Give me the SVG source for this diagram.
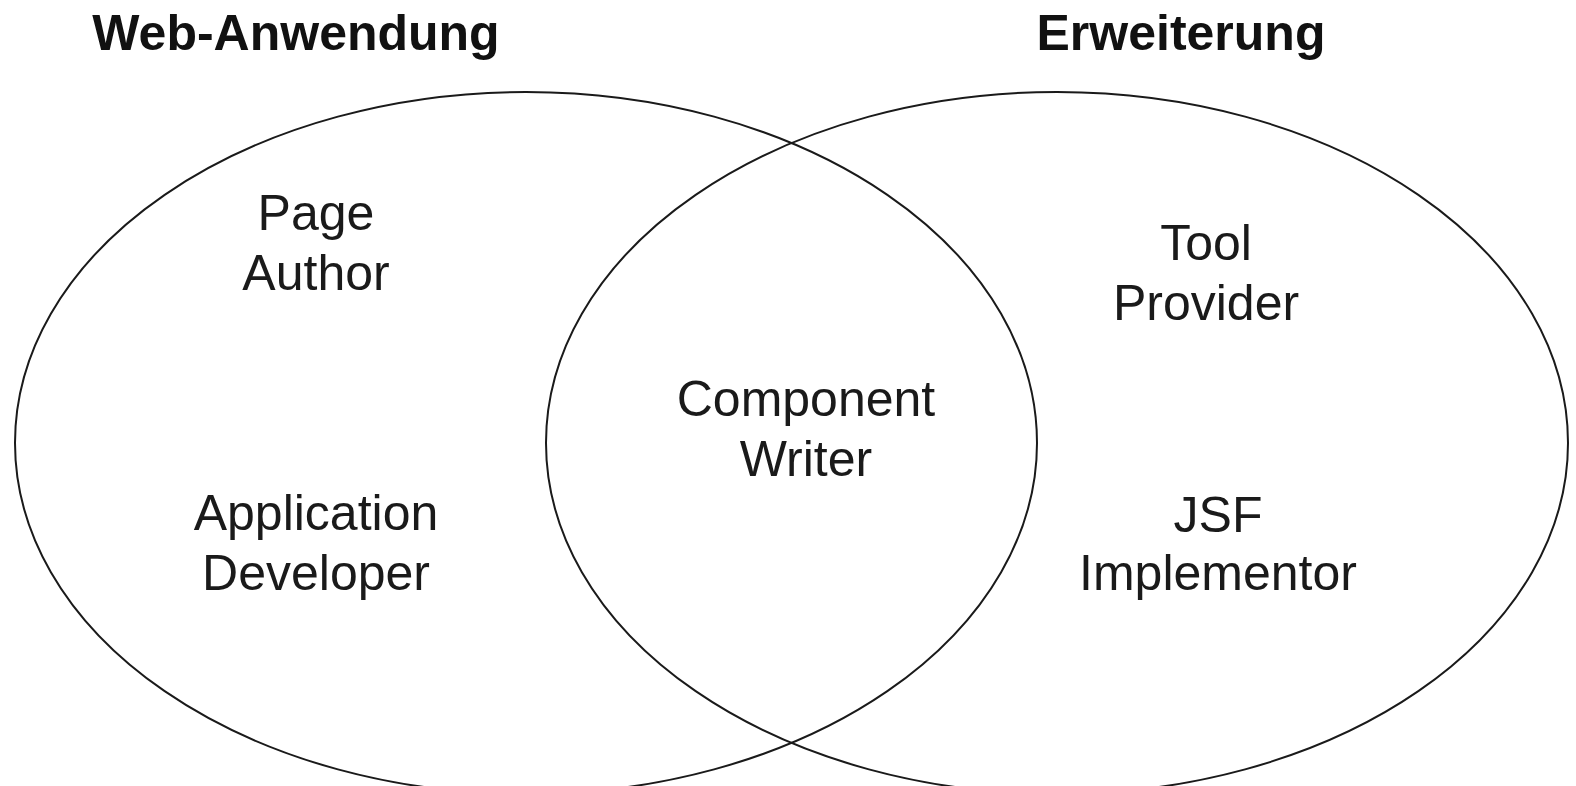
<svg xmlns="http://www.w3.org/2000/svg" width="1576" height="786" viewBox="0 0 1576 786">
<style>
.set{fill:none;stroke:#1a1a1a;stroke-width:2}
.title{font-family:"Liberation Sans",Arial,sans-serif;font-weight:bold;font-size:50px;fill:#111;text-anchor:middle}
.lbl{font-family:"Liberation Sans",Arial,sans-serif;font-size:50px;fill:#1a1a1a;text-anchor:middle}
</style>
<rect width="1576" height="786" fill="#fff"/>
<g id="connectors"></g>
<g id="web-anwendung">
<ellipse class="set" cx="526" cy="443" rx="511" ry="351"/>
<text class="title" x="296" y="50">Web-Anwendung</text>
</g>
<g id="erweiterung">
<ellipse class="set" cx="1057" cy="443" rx="511" ry="351"/>
<text class="title" x="1181" y="50">Erweiterung</text>
</g>
<g id="page-author">
<text class="lbl" x="316" y="230">Page</text>
<text class="lbl" x="316" y="290">Author</text>
</g>
<g id="application-developer">
<text class="lbl" x="316" y="530">Application</text>
<text class="lbl" x="316" y="590">Developer</text>
</g>
<g id="component-writer">
<text class="lbl" x="806" y="416">Component</text>
<text class="lbl" x="806" y="476">Writer</text>
</g>
<g id="tool-provider">
<text class="lbl" x="1206" y="260">Tool</text>
<text class="lbl" x="1206" y="320">Provider</text>
</g>
<g id="jsf-implementor">
<text class="lbl" x="1218" y="532">JSF</text>
<text class="lbl" x="1218" y="590">Implementor</text>
</g>
</svg>
